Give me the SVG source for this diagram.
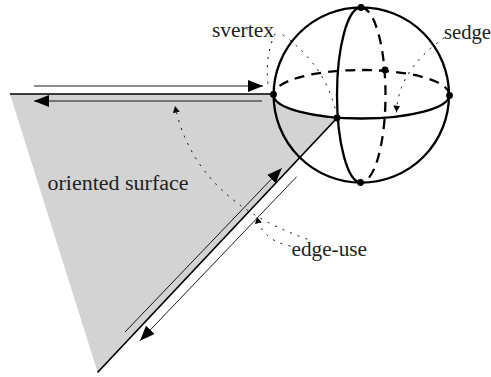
<svg xmlns="http://www.w3.org/2000/svg" width="491" height="377" viewBox="0 0 491 377">
<style>
.lbl{font-family:"Liberation Serif","DejaVu Serif",serif;font-size:20px;fill:#222}
.thin{fill:none;stroke:#000;stroke-width:.9}
.edge{fill:none;stroke:#000;stroke-width:1.7}
.sph{fill:none;stroke:#000;stroke-width:2.3}
.dash{fill:none;stroke:#000;stroke-width:2.3;stroke-dasharray:10 7}
.dot{fill:none;stroke:#000;stroke-width:1;stroke-dasharray:1.2 7;stroke-linecap:round}
.v{fill:#000}
</style>
<defs>
<marker id="big" markerUnits="userSpaceOnUse" markerWidth="16" markerHeight="12" refX="15" refY="6" orient="auto"><path d="M0 0L15 6L0 12Z" fill="#000"/></marker>
<marker id="small" markerUnits="userSpaceOnUse" markerWidth="7" markerHeight="8" refX="6.5" refY="3.5" orient="auto"><path d="M0 0L6.5 3.5L0 7Z" fill="#000"/></marker>
</defs>
<g id="surface">
<path d="M10 94L273.5 94A88 23.5 0 0 0 337 118L97.5 372Z" fill="#d3d3d3"/>
</g>
<g id="connectors">
<path class="edge" d="M10 94L273.5 94"/>
<path class="edge" d="M97.5 372.5L337 118"/>
<path class="thin" d="M34 86L263 86" marker-end="url(#big)"/>
<path class="thin" d="M262 101L34 101" marker-end="url(#big)"/>
<path class="thin" d="M125 332L281.7 168.3" marker-end="url(#big)"/>
<path class="thin" d="M296.7 176.7L140 340.7" marker-end="url(#big)"/>
<path class="dot" d="M275 34Q265 55 268 85"/>
<path class="dot" d="M283 35Q325 65 336 112"/>
<path class="dot" d="M444 38Q398 70 396.5 112" marker-end="url(#small)"/>
<path class="dot" d="M290 246Q262 240 257 217" marker-end="url(#small)"/>
<path class="dot" d="M307 239Q195 200 175 106" marker-end="url(#small)"/>
</g>
<g id="sphere">
<circle class="sph" cx="361.3" cy="95" r="87.7"/>
<path class="sph" d="M273.5 95A88 23.5 0 0 0 449.5 95"/>
<path class="sph" d="M361 7.5A24 87.5 0 0 0 361 182.5"/>
<path class="dash" d="M449.5 95A88 25 0 0 0 273.5 95"/>
<path class="dash" d="M361 7.5A24.5 87.5 0 0 1 361 182.5"/>
</g>
<g id="v-left"><circle class="v" cx="273.5" cy="94.5" r="3.4"/></g>
<g id="v-right"><circle class="v" cx="449.5" cy="95.5" r="3.4"/></g>
<g id="v-front"><circle class="v" cx="337" cy="118" r="3.4"/></g>
<g id="v-back"><circle class="v" cx="385" cy="70" r="3.4"/></g>
<g id="v-top"><circle class="v" cx="361" cy="7.5" r="3.4"/></g>
<g id="v-bottom"><circle class="v" cx="360.5" cy="182.5" r="3.4"/></g>
<g id="labels">
<text class="lbl" x="212" y="37" textLength="62" lengthAdjust="spacingAndGlyphs">svertex</text>
<text class="lbl" x="444" y="39" textLength="47" lengthAdjust="spacingAndGlyphs">sedge</text>
<text class="lbl" x="47.5" y="190" textLength="141" lengthAdjust="spacingAndGlyphs">oriented surface</text>
<text class="lbl" x="291.5" y="256" textLength="75.5" lengthAdjust="spacingAndGlyphs">edge-use</text>
</g>
</svg>
